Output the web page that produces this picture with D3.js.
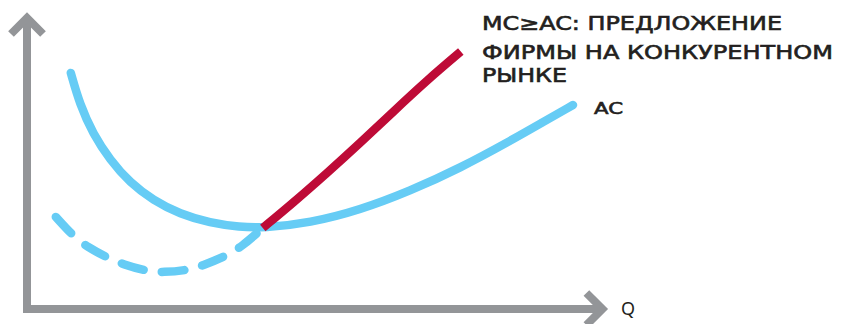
<!DOCTYPE html>
<html>
<head>
<meta charset="utf-8">
<script src="https://cdn.jsdelivr.net/npm/d3@7"></script>
<style>
  html, body { margin: 0; padding: 0; background: #fff; }
  svg { display: block; }
</style>
</head>
<body>
<svg id="chart" width="847" height="324"></svg>
<script>
// ---- data (Q on x, cost on y, arbitrary 0..100 units) ----
const acQ = [7.3, 8.8, 11.0, 13.8, 17.2, 21.0, 25.5, 30.5, 35.5, 39.3, 47.2, 55.5, 63.8, 72.2, 80.5, 86.0, 91.0];
const acC = [78.7, 68.2, 58.4, 49.8, 42.0, 36.3, 31.6, 28.7, 27.3, 27.0, 28.7, 33.0, 39.3, 47.0, 56.0, 62.3, 68.0];

const mcLowQ = [4.8, 7.7, 10.0, 13.5, 16.0, 20.0, 22.7, 26.7, 29.3, 33.3, 35.8, 39.3];
const mcLowC = [30.7, 24.3, 20.7, 17.0, 14.9, 12.6, 12.2, 12.9, 14.5, 17.8, 20.8, 27.0];

const supplyQ = [39.3, 44.3, 50.0, 55.5, 61.0, 66.7, 72.3];
const supplyC = [27.0, 35.3, 45.3, 55.3, 65.7, 76.3, 85.8];

const supplyLabel = ["MC≥AC: ПРЕДЛОЖЕНИЕ", "ФИРМЫ НА КОНКУРЕНТНОМ", "РЫНКЕ"];
const acLabel = "AC";
const xAxisLabel = "Q";

// ---- scales ----
const x = d3.scaleLinear().domain([0, 100]).range([27, 627]);
const y = d3.scaleLinear().domain([0, 100]).range([309, 9]);

const svg = d3.select("#chart");
const blue = "#66CCF5", red = "#BE0B37", gray = "#939598", ink = "#231F20";

// ---- axes ----
const xEnd = 95.9, yEnd = 97.0;
svg.append("path")
  .attr("d", `M${x(0)},${y(yEnd)} L${x(0)},${y(0)} L${x(xEnd)},${y(0)}`)
  .attr("fill", "none").attr("stroke", gray).attr("stroke-width", 8)
  .attr("stroke-linejoin", "miter").attr("stroke-linecap", "butt");
const ah = 16;
svg.append("path")
  .attr("d", `M${x(0) - ah},${y(yEnd) + ah} L${x(0)},${y(yEnd)} L${x(0) + ah},${y(yEnd) + ah}`)
  .attr("fill", "none").attr("stroke", gray).attr("stroke-width", 8)
  .attr("stroke-linejoin", "miter").attr("stroke-linecap", "butt");
svg.append("path")
  .attr("d", `M${x(xEnd) - ah},${y(0) - ah} L${x(xEnd)},${y(0)} L${x(xEnd) - ah},${y(0) + ah}`)
  .attr("fill", "none").attr("stroke", gray).attr("stroke-width", 8)
  .attr("stroke-linejoin", "miter").attr("stroke-linecap", "butt");

svg.append("text")
  .attr("x", 621).attr("y", 315)
  .attr("font-family", "'Noto Sans', 'Open Sans', sans-serif")
  .attr("font-size", 18).attr("fill", ink)
  .text(xAxisLabel);

// ---- curves ----
const line = d3.line().x(d => x(d[0])).y(d => y(d[1])).curve(d3.curveBasis);
const zip = (a, b) => a.map((v, i) => [v, b[i]]);

svg.append("path")
  .attr("d", line(zip(acQ, acC)))
  .attr("fill", "none").attr("stroke", blue).attr("stroke-width", 8.5)
  .attr("stroke-linecap", "round");

svg.append("path")
  .attr("d", line(zip(mcLowQ, mcLowC)))
  .attr("fill", "none").attr("stroke", blue).attr("stroke-width", 8.5)
  .attr("stroke-linecap", "round")
  .attr("stroke-dasharray", "22.5 18.5");

svg.append("path")
  .attr("d", line(zip(supplyQ, supplyC)))
  .attr("fill", "none").attr("stroke", red).attr("stroke-width", 8.5)
  .attr("stroke-linecap", "butt");

// ---- labels ----
const labelFont = "'DejaVu Sans', sans-serif";
const lines = [
  { t: supplyLabel[0], y: 30, w: 300 },
  { t: supplyLabel[1], y: 58.5, w: 351 },
  { t: supplyLabel[2], y: 82, w: 85 }
];
svg.selectAll("text.sup").data(lines).enter().append("text")
  .attr("class", "sup")
  .attr("x", 482).attr("y", d => d.y)
  .attr("font-family", labelFont).attr("font-size", 19)
  .attr("fill", ink).attr("stroke", ink).attr("stroke-width", 0.6)
  .attr("textLength", d => d.w).attr("lengthAdjust", "spacingAndGlyphs")
  .text(d => d.t);

svg.append("text")
  .attr("x", 594).attr("y", 113.5)
  .attr("font-family", labelFont).attr("font-size", 15.5)
  .attr("fill", ink).attr("stroke", ink).attr("stroke-width", 0.6)
  .attr("textLength", 29).attr("lengthAdjust", "spacingAndGlyphs")
  .text(acLabel);
</script>
</body>
</html>
